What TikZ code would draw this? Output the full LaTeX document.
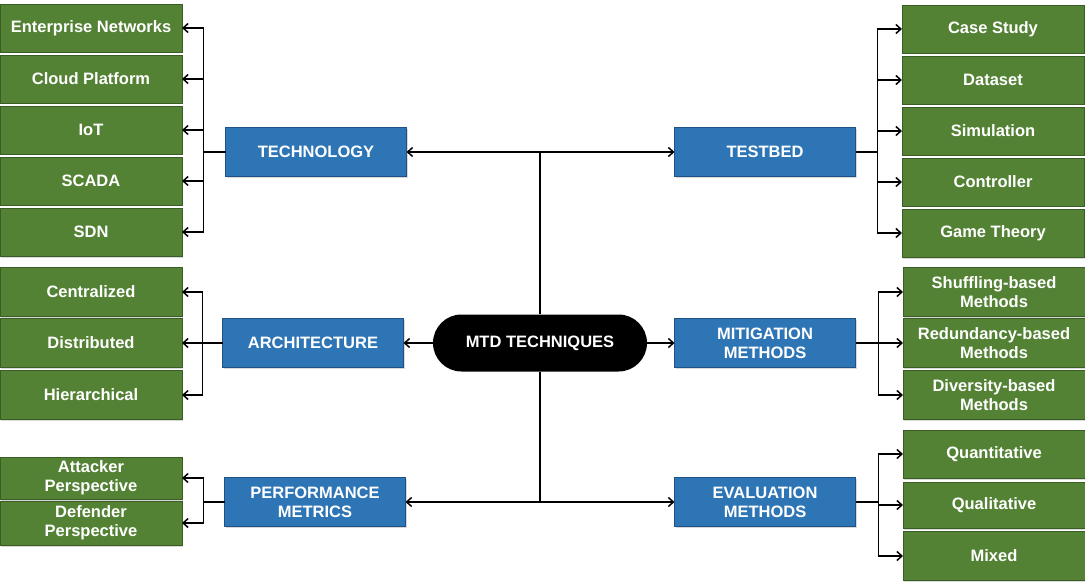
\documentclass[tikz,border=0pt]{standalone}
\usepackage{fontspec}
\setmainfont{Liberation Sans}
\definecolor{greenface}{RGB}{84, 130, 53}
\definecolor{greenedge}{RGB}{58, 92, 37}
\definecolor{blueface}{RGB}{46, 117, 182}
\definecolor{blueedge}{RGB}{31, 82, 132}
\usetikzlibrary{arrows.meta,positioning,shapes.misc,shadows}

\begin{document}
\begin{tikzpicture}[x=1pt, y=-1pt,
    boxtext/.style={text=white, font=\bfseries\fontsize{16.5}{19}\selectfont, align=center, inner sep=0pt, outer sep=0pt},
    topic/.style={boxtext, draw=blueedge, fill=blueface, minimum width=181pt, minimum height=49pt,
      drop shadow={shadow xshift=1pt, shadow yshift=-1.5pt, opacity=0.3}},
    item/.style={boxtext, draw=greenedge, fill=greenface, minimum width=182pt, minimum height=48pt,
      drop shadow={shadow xshift=1pt, shadow yshift=-1.5pt, opacity=0.3}},
    arr/.style={-{Straight Barb[length=5pt, width=9pt, line width=1.5pt]}, line width=1.6pt},
    link/.style={line width=1.6pt}]
  \useasboundingbox (0,0) rectangle (1085,583);

  % Centre
  \node[rounded rectangle, fill=black, text=white, font=\bfseries\fontsize{16.5}{19}\selectfont,
    minimum width=214pt, minimum height=57pt, inner sep=0pt] (Mtd) at (540,343) {MTD TECHNIQUES};

  % Topics
  \node[topic] (Tech) at (316,152) {TECHNOLOGY};
  \node[topic] (Test) at (765,152) {TESTBED};
  \node[topic] (Arch) at (313,343) {ARCHITECTURE};
  \node[topic] (Mit) at (765,343) {MITIGATION\\METHODS};
  \node[topic] (Perf) at (315,502) {PERFORMANCE\\METRICS};
  \node[topic] (Eval) at (765,502) {EVALUATION\\METHODS};

  % Technology items
  \node[item] (Ent) at (91,28) {Enterprise Networks};
  \node[item] (Cloud) at (91,79) {Cloud Platform};
  \node[item] (Iot) at (91,130) {IoT};
  \node[item] (Scada) at (91,181) {SCADA};
  \node[item] (Sdn) at (91,232) {SDN};

  % Testbed items
  \node[item] (Case) at (993,29) {Case Study};
  \node[item] (Data) at (993,80) {Dataset};
  \node[item] (Sim) at (993,131) {Simulation};
  \node[item] (Ctrl) at (993,182) {Controller};
  \node[item] (Game) at (993,233) {Game Theory};

  % Architecture items
  \node[item, minimum height=49pt] (Cent) at (91,292) {Centralized};
  \node[item, minimum height=49pt] (Dist) at (91,343) {Distributed};
  \node[item, minimum height=49pt] (Hier) at (91,395) {Hierarchical};

  % Mitigation items
  \node[item, minimum height=49pt] (Shuf) at (994,292) {Shuffling-based\\Methods};
  \node[item, minimum height=49pt] (Red) at (994,343) {Redundancy-based\\Methods};
  \node[item, minimum height=49pt] (Div) at (994,395) {Diversity-based\\Methods};

  % Performance items
  \node[item, minimum height=42pt] (Att) at (91,478) {Attacker\\Perspective};
  \node[item, minimum height=44pt] (Def) at (91,523) {Defender\\Perspective};

  % Evaluation items
  \node[item] (Quan) at (994,454) {Quantitative};
  \node[item, minimum height=46pt] (Qual) at (994,505) {Qualitative};
  \node[item, minimum height=49pt] (Mix) at (994,556) {Mixed};

  % Centre to topics
  \draw[arr] (Mtd.north) |- (Tech.east);
  \draw[arr] (Mtd.north) |- (Test.west);
  \draw[arr] (Mtd.south) |- (Perf.east);
  \draw[arr] (Mtd.south) |- (Eval.west);
  \draw[arr] (Mtd) -- (Arch);
  \draw[arr] (Mtd) -- (Mit);

  % Topics to items
  \draw[link] (Tech.west) -- ++(-22,0);
  \foreach \n in {Ent,Cloud,Iot,Scada,Sdn}
    \draw[arr] (Tech.west) ++(-22,0) |- (\n.east);
  \draw[link] (Test.east) -- ++(22,0);
  \foreach \n in {Case,Data,Sim,Ctrl,Game}
    \draw[arr] (Test.east) ++(22,0) |- (\n.west);
  \foreach \n in {Cent,Dist,Hier}
    \draw[arr] (Arch.west) -- ++(-20,0) |- (\n.east);
  \foreach \n in {Shuf,Red,Div}
    \draw[arr] (Mit.east) -- ++(23,0) |- (\n.west);
  \foreach \n in {Att,Def}
    \draw[arr] (Perf.west) -- ++(-21,0) |- (\n.east);
  \foreach \n in {Quan,Qual,Mix}
    \draw[arr] (Eval.east) -- ++(23,0) |- (\n.west);
\end{tikzpicture}
\end{document}
